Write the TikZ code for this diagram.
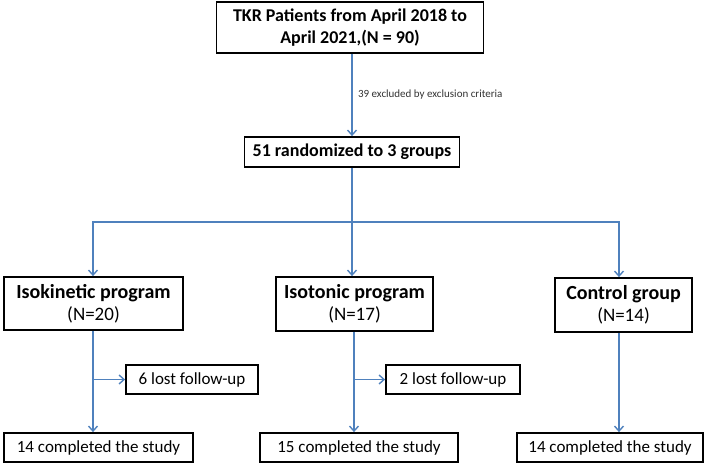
\documentclass[tikz,border=0pt]{standalone}
\usepackage{fontspec}
\setmainfont{Carlito}
\usetikzlibrary{arrows.meta}
\definecolor{arrblue}{RGB}{79,129,189}
\tikzset{
  box/.style={draw=black, line width=1.8pt, inner sep=0pt, align=center, fill=white},
  arr/.style={draw=arrblue, line width=1.4pt, -{Straight Barb[length=5pt,width=9pt,line width=1.4pt]}},
  ln/.style={draw=arrblue, line width=1.4pt},
  big/.style={font=\fontsize{18}{22}\selectfont\bfseries},
  mid/.style={font=\fontsize{17}{20}\selectfont},
}
\newcommand{\grp}[2]{{\fontsize{20}{22}\selectfont\bfseries #1}\\[4pt]{\fontsize{19}{21}\selectfont #2}}
\begin{document}
\begin{tikzpicture}[x=1pt,y=-1pt]
\useasboundingbox (0,0) rectangle (708,465);
\node[box,big,minimum width=267pt,minimum height=51pt] (top) at (350,27.5) {TKR Patients from April 2018 to\\April 2021,(N = 90)};
\node[box,big,minimum width=215pt,minimum height=30pt] (rand) at (352,152) {51 randomized to 3 groups};
\node[box,minimum width=179pt,minimum height=53pt] (kin) at (93.5,303.5) {\grp{Isokinetic program}{(N=20)}};
\node[box,minimum width=157pt,minimum height=54pt] (ton) at (354.5,304) {\grp{Isotonic program}{(N=17)}};
\node[box,minimum width=137pt,minimum height=54pt] (ctl) at (623.5,305) {\grp{Control group}{(N=14)}};
\node[box,mid,minimum width=132pt,minimum height=29pt] (lost1) at (192,379.5) {6 lost follow-up};
\node[box,mid,minimum width=134pt,minimum height=29pt] (lost2) at (453,379.5) {2 lost follow-up};
\node[box,mid,minimum width=189pt,minimum height=29pt] (c1) at (98.5,447.5) {14 completed the study};
\node[box,mid,minimum width=198pt,minimum height=29pt] (c2) at (359,447.5) {15 completed the study};
\node[box,mid,minimum width=186pt,minimum height=29pt] (c3) at (610,447.5) {14 completed the study};
% coordinates
\coordinate (ax) at (93,0);
\coordinate (bx) at (354,0);
\coordinate (cx) at (619,0);
\coordinate (split) at (352,222);
% top to rand
\draw[arr] (top.south -| rand.north) -- node[right=2pt, font=\fontsize{11}{13}\selectfont, text=black!80, pos=0.5] {39 excluded by exclusion criteria} (rand.north);
% split
\draw[ln] (rand.south) -- (split);
\draw[arr] (split) -| (kin.north -| ax);
\draw[arr] (split) -| (ctl.north -| cx);
\draw[arr] (split) -- (ton.north -| split);
% lower
\draw[arr] (kin.south -| ax) -- (c1.north -| ax);
\draw[arr] (lost1.west -| ax) -- (lost1.west);
\draw[arr] (ton.south -| bx) -- (c2.north -| bx);
\draw[arr] (lost2.west -| bx) -- (lost2.west);
\draw[arr] (ctl.south -| cx) -- (c3.north -| cx);
\end{tikzpicture}
\end{document}
